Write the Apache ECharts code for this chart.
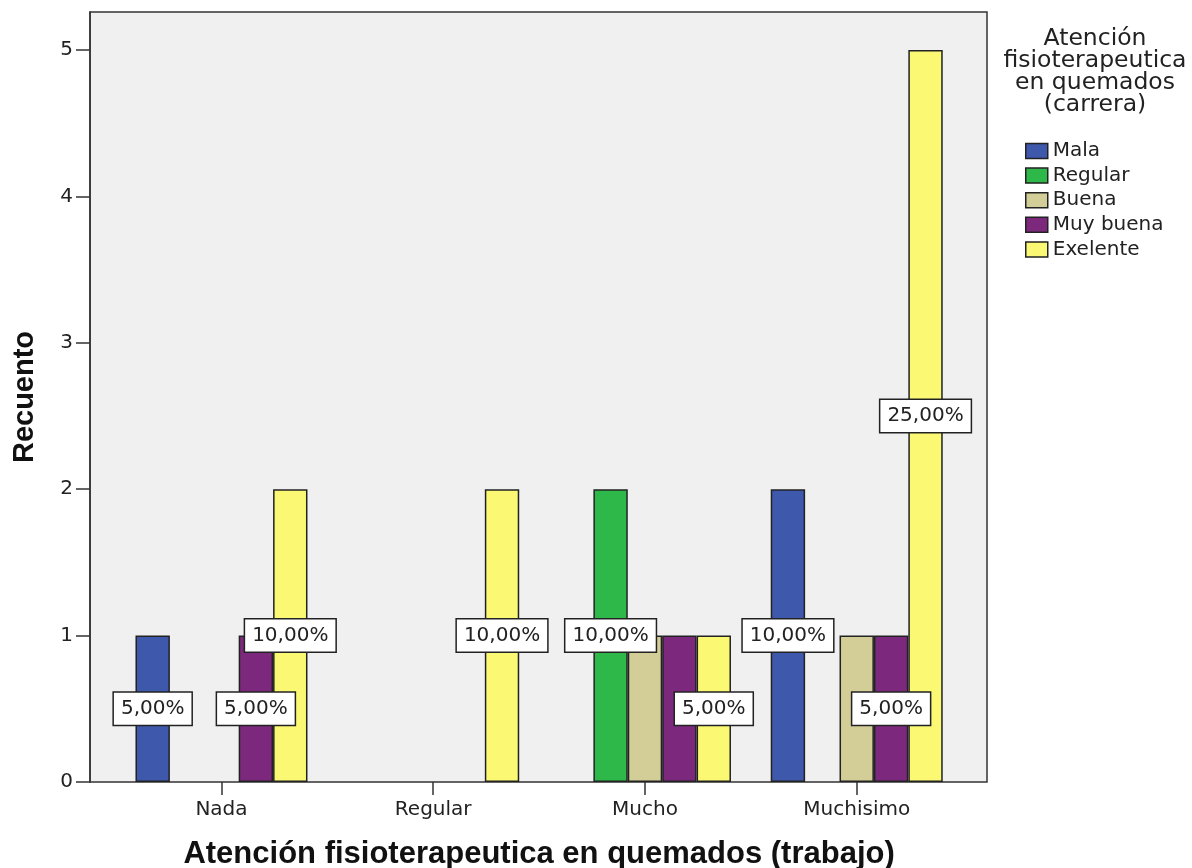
<!DOCTYPE html>
<html>
<head>
<meta charset="utf-8">
<script src="https://cdn.jsdelivr.net/npm/echarts@6/dist/echarts.min.js"></script>
<style>
html,body{margin:0;padding:0;background:#fff;}
#chart{width:1192px;height:868px;}
</style>
</head>
<body>
<div id="chart"></div>
<script>
// ---- data ----
const categories = ['Nada', 'Regular', 'Mucho', 'Muchisimo'];
const seriesNames = ['Mala', 'Regular', 'Buena', 'Muy buena', 'Exelente'];
const mala = [1, 0, 0, 2];
const regular = [0, 0, 2, 0];
const buena = [0, 0, 1, 1];
const muyBuena = [1, 0, 1, 1];
const exelente = [2, 2, 1, 5];
const yTicks = [0, 1, 2, 3, 4, 5];
const yMax = 5.26;
// labels that the original omits (overlapping)
const hiddenLabels = { 'Buena': ['Mucho', 'Muchisimo'], 'Muy buena': ['Mucho'] };
const colors = ['#3e58ac', '#2fb84a', '#d3ce97', '#7c287d', '#fbf873'];

const seriesValues = [mala, regular, buena, muyBuena, exelente];
const total = seriesValues.reduce((s, arr) => s + arr.reduce((a, b) => a + b, 0), 0);

const fmtPct = v => (v / total * 100).toFixed(2).replace('.', ',') + '%';

const series = seriesNames.map((name, si) => ({
  name: name,
  type: 'bar',
  xAxisIndex: 1,
  yAxisIndex: 1,
  barWidth: 34.4,
  barGap: '0%',
  itemStyle: { color: colors[si], borderColor: '#222', borderWidth: 1.5 },
  label: {
    show: true,
    position: 'inside',
    formatter: p => fmtPct(p.value),
    fontFamily: 'DejaVu Sans',
    fontSize: 20,
    color: '#222',
    backgroundColor: '#fff',
    borderColor: '#222',
    borderWidth: 1.5,
    padding: [6, 7, 6, 7]
  },
  data: seriesValues[si].map((v, ci) => {
    if (!v) return '-';
    const hide = (hiddenLabels[name] || []).indexOf(categories[ci]) >= 0;
    return { value: v, label: { show: !hide } };
  })
}));

const chart = echarts.init(document.getElementById('chart'), null, { renderer: 'canvas' });
chart.setOption({
  animation: false,
  backgroundColor: '#fff',
  title: {
    text: 'Atención\nfisioterapeutica\nen quemados\n(carrera)',
    left: 1095,
    top: 28,
    padding: 0,
    textAlign: 'center',
    textStyle: {
      fontFamily: 'DejaVu Sans',
      fontWeight: 'normal',
      fontSize: 23.5,
      lineHeight: 22,
      color: '#222'
    }
  },
  legend: {
    orient: 'vertical',
    left: 1025,
    top: 141,
    padding: 0,
    itemWidth: 22,
    itemHeight: 15,
    itemGap: 4.6,
    icon: 'rect',
    itemStyle: { borderColor: '#222', borderWidth: 1.5 },
    textStyle: { fontFamily: 'DejaVu Sans', fontSize: 20, color: '#222' },
    data: seriesNames
  },
  grid: [
    { left: 90, right: 205, top: 12, bottom: 86, outerBoundsMode: 'none', containLabel: false, show: true, backgroundColor: '#f0f0f0', borderColor: '#333', borderWidth: 1.5 },
    { left: 115.6, right: 229.4, top: 12, bottom: 86, outerBoundsMode: 'none', containLabel: false }
  ],
  xAxis: [
    { gridIndex: 0, type: 'value', show: false },
    {
      gridIndex: 1,
      type: 'category',
      data: categories,
      axisLine: { show: false },
      axisTick: { show: true, alignWithLabel: true, length: 13, lineStyle: { color: '#333', width: 1.5 } },
      axisLabel: { fontFamily: 'DejaVu Sans', fontSize: 20, color: '#222', margin: 18 },
      name: 'Atención fisioterapeutica en quemados (trabajo)',
      nameLocation: 'middle',
      nameGap: 57,
      nameTextStyle: { fontFamily: 'Liberation Sans', fontWeight: 'bold', fontSize: 31, color: '#111' }
    }
  ],
  yAxis: [
    {
      gridIndex: 0,
      type: 'value',
      min: 0,
      max: yMax,
      axisLine: { show: true, lineStyle: { color: '#333', width: 1.5 } },
      axisTick: { show: true, length: 14, customValues: yTicks, lineStyle: { color: '#333', width: 1.5 } },
      axisLabel: { customValues: yTicks, fontFamily: 'DejaVu Sans', fontSize: 20, color: '#222', margin: 17 },
      splitLine: { show: false },
      name: 'Recuento',
      nameLocation: 'middle',
      nameGap: 51,
      nameTextStyle: { fontFamily: 'Liberation Sans', fontWeight: 'bold', fontSize: 29, color: '#111' }
    },
    { gridIndex: 1, type: 'value', min: 0, max: yMax, show: false, splitLine: { show: false } }
  ],
  series: series
});
</script>
</body>
</html>
